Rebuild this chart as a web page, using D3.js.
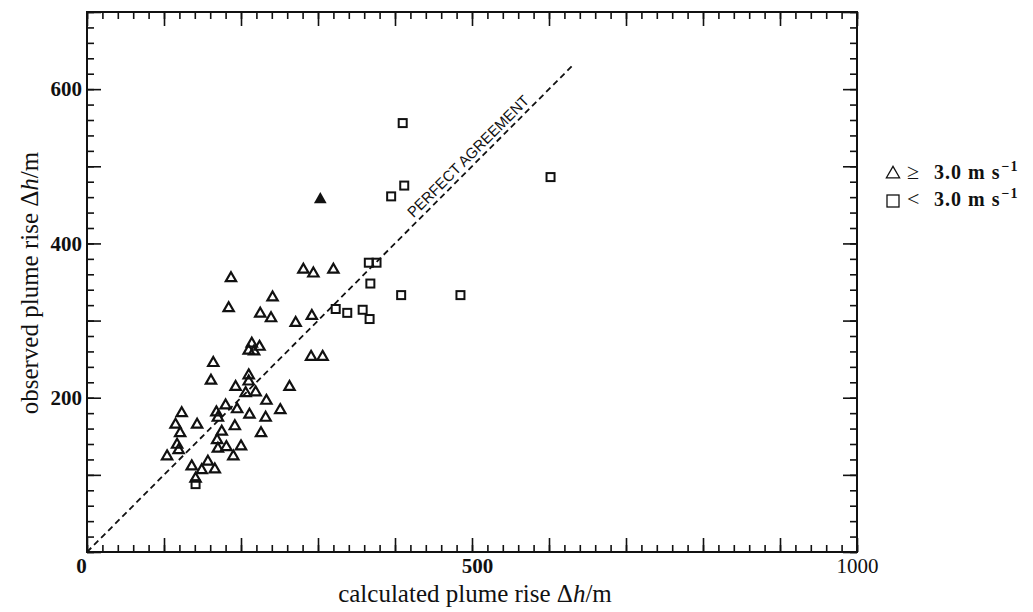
<!DOCTYPE html>
<html>
<head>
<meta charset="utf-8">
<script src="https://cdn.jsdelivr.net/npm/d3@7"></script>
<style>
  body { margin: 0; background: #fff; }
  svg { display: block; }
  .tick text { font-family: "Liberation Serif", "DejaVu Serif", serif; fill: #111; }
  .ticks .domain { display: none; }
  .ticks line { stroke: #111; stroke-width: 1.6; }
</style>
</head>
<body>
<div id="chart"></div>
<script>
// calculated vs observed plume rise (m), wind speed >= 3.0 m/s
const fastCalc = [187, 184, 241, 225, 239, 271, 292, 281, 294, 320, 291, 306, 164, 161, 214, 210, 217, 224,
                  210, 210, 193, 206, 219, 263, 233, 251, 180, 195, 168, 170, 211, 232, 123, 115, 121, 117,
                  119, 143, 192, 175, 226, 169, 170, 181, 200, 190, 104, 136, 149, 157, 166, 141];
const fastObs  = [355, 316, 330, 309, 303, 297, 306, 366, 361, 366, 253, 253, 245, 222, 270, 261, 260, 266,
                  229, 221, 214, 206, 207, 214, 196, 184, 190, 185, 181, 174, 178, 174, 180, 165, 154, 139,
                  132, 165, 163, 156, 154, 145, 134, 136, 137, 124, 124, 111, 106, 117, 107, 95];

// wind speed < 3.0 m/s
const slowCalc = [410, 395, 412, 366, 376, 368, 408, 485, 602, 323, 338, 358, 367, 141];
const slowObs  = [556, 461, 475, 375, 375, 348, 333, 333, 486, 315, 310, 314, 302, 88];

// the one filled triangle
const markedCalc = [303];
const markedObs  = [457];

const xMajor = d3.range(0, 1001, 100);
const xMinor = d3.range(0, 1001, 20);
const yMajor = d3.range(0, 701, 100);
const yMinor = d3.range(0, 701, 20);
const xLabels = [0, 500, 1000];
const yLabels = [200, 400, 600];
const agreement = [0, 630];

const width = 1033, height = 612;
const margin = { top: 12, left: 87 };
const plotW = 770, plotH = 540;

const svg = d3.select('#chart').append('svg')
  .attr('width', width)
  .attr('height', height);

const x = d3.scaleLinear().domain([0, 1000]).range([margin.left, margin.left + plotW]);
const y = d3.scaleLinear().domain([0, 700]).range([margin.top + plotH, margin.top]);

// ticks on all four sides, pointing inwards
function tickSide(axisFn, scale, values, size, transform) {
  svg.append('g')
    .attr('class', 'ticks')
    .attr('transform', transform)
    .call(axisFn(scale).tickValues(values).tickSize(size).tickFormat(''));
}
[[xMinor, -7], [xMajor, -14]].forEach(([v, s]) => {
  tickSide(d3.axisBottom, x, v, s, `translate(0, ${y(0)})`);
  tickSide(d3.axisTop, x, v, s, `translate(0, ${y(700)})`);
});
[[yMinor, -7], [yMajor, -14]].forEach(([v, s]) => {
  tickSide(d3.axisLeft, y, v, s, `translate(${x(0)}, 0)`);
  tickSide(d3.axisRight, y, v, s, `translate(${x(1000)}, 0)`);
});

// frame
svg.append('rect')
  .attr('x', x(0)).attr('y', y(700))
  .attr('width', x(1000) - x(0)).attr('height', y(0) - y(700))
  .attr('fill', 'none').attr('stroke', '#111').attr('stroke-width', 2);

// tick labels
const xl = svg.append('g')
  .attr('class', 'ticks')
  .attr('transform', `translate(0, ${y(0)})`)
  .call(d3.axisBottom(x).tickValues(xLabels).tickSize(0).tickPadding(6).tickFormat(d3.format('d')));
xl.selectAll('text').style('font-size', '21px').style('font-weight', 'bold');
xl.selectAll('.tick').filter(d => d === 0).select('text').attr('dx', -6);
xl.selectAll('.tick').filter(d => d === 500).select('text').attr('dx', 5);
xl.selectAll('.tick').filter(d => d === 1000).select('text').style('font-weight', 'normal');

const yl = svg.append('g')
  .attr('class', 'ticks')
  .attr('transform', `translate(${x(0)}, 0)`)
  .call(d3.axisLeft(y).tickValues(yLabels).tickSize(0).tickPadding(5));
yl.selectAll('text').style('font-size', '21px').style('font-weight', 'bold');

// axis titles
const xTitle = svg.append('text')
  .attr('x', 475).attr('y', 602)
  .attr('text-anchor', 'middle')
  .style('font-family', '"Liberation Serif", serif')
  .style('font-size', '25px')
  .attr('fill', '#111');
xTitle.append('tspan').text('calculated plume rise Δ');
xTitle.append('tspan').style('font-style', 'italic').text('h');
xTitle.append('tspan').text('/m');

const yTitle = svg.append('text')
  .attr('transform', `translate(38, ${283}) rotate(-90)`)
  .attr('text-anchor', 'middle')
  .style('font-family', '"Liberation Serif", serif')
  .style('font-size', '25px')
  .attr('fill', '#111');
yTitle.append('tspan').text('observed plume rise Δ');
yTitle.append('tspan').style('font-style', 'italic').text('h');
yTitle.append('tspan').text('/m');

// perfect agreement line
svg.append('line')
  .attr('x1', x(agreement[0])).attr('y1', y(agreement[0]))
  .attr('x2', x(agreement[1])).attr('y2', y(agreement[1]))
  .attr('stroke', '#111')
  .attr('stroke-width', 1.8)
  .attr('stroke-dasharray', '6,4');

svg.append('text')
  .attr('transform', `translate(${x(495)}, ${y(513)}) rotate(-45)`)
  .attr('text-anchor', 'middle')
  .attr('dy', '0.35em')
  .attr('textLength', 165)
  .attr('lengthAdjust', 'spacingAndGlyphs')
  .style('font-family', '"Liberation Sans", Arial, sans-serif')
  .style('font-size', '15px')
  .attr('fill', '#111')
  .text('PERFECT AGREEMENT');

// markers
const tri = d3.symbol().type(d3.symbolTriangle).size(46);
const bigTri = d3.symbol().type(d3.symbolTriangle).size(70);
const sq = 8;

const fast = fastCalc.map((c, i) => ({ calc: c, obs: fastObs[i] }));
const slow = slowCalc.map((c, i) => ({ calc: c, obs: slowObs[i] }));
const marked = markedCalc.map((c, i) => ({ calc: c, obs: markedObs[i] }));

svg.append('g').selectAll('path')
  .data(fast)
  .enter()
  .append('path')
  .attr('d', tri)
  .attr('transform', d => `translate(${x(d.calc)}, ${y(d.obs)})`)
  .attr('fill', 'none')
  .attr('stroke', '#111')
  .attr('stroke-width', 2.2)
  .attr('stroke-linejoin', 'miter');

svg.append('g').selectAll('rect')
  .data(slow)
  .enter()
  .append('rect')
  .attr('x', d => x(d.calc) - sq / 2)
  .attr('y', d => y(d.obs) - sq / 2)
  .attr('width', sq)
  .attr('height', sq)
  .attr('fill', 'none')
  .attr('stroke', '#111')
  .attr('stroke-width', 2);

svg.append('g').selectAll('path')
  .data(marked)
  .enter()
  .append('path')
  .attr('d', bigTri)
  .attr('transform', d => `translate(${x(d.calc)}, ${y(d.obs)})`)
  .attr('fill', '#111');

// legend
const legend = svg.append('g')
  .style('font-family', '"Liberation Serif", serif')
  .style('font-weight', 'bold')
  .style('font-size', '20px')
  .attr('fill', '#111');

const legendRows = [
  { sign: '≥', row: 0 },
  { sign: '<', row: 1 }
];
legendRows.forEach(r => {
  const cy = 173 + r.row * 27;
  if (r.row === 0) {
    legend.append('path')
      .attr('d', d3.symbol().type(d3.symbolTriangle).size(75))
      .attr('transform', `translate(893, ${cy + 1})`)
      .attr('fill', 'none').attr('stroke', '#111').attr('stroke-width', 1.3);
  } else {
    legend.append('rect')
      .attr('x', 887).attr('y', cy - 5).attr('width', 12).attr('height', 12)
      .attr('fill', 'none').attr('stroke', '#111').attr('stroke-width', 1.3);
  }
  legend.append('text')
    .attr('x', 907).attr('y', cy + 6)
    .style('font-weight', 'normal')
    .style('font-size', '22px')
    .text(r.sign);
  const t = legend.append('text')
    .attr('x', 934).attr('y', cy + 6)
    .style('letter-spacing', '1px');
  t.append('tspan').text('3.0 m s');
  t.append('tspan').attr('dy', -8).attr('dx', 1).style('font-size', '14px').text('−1');
});
</script>
</body>
</html>
